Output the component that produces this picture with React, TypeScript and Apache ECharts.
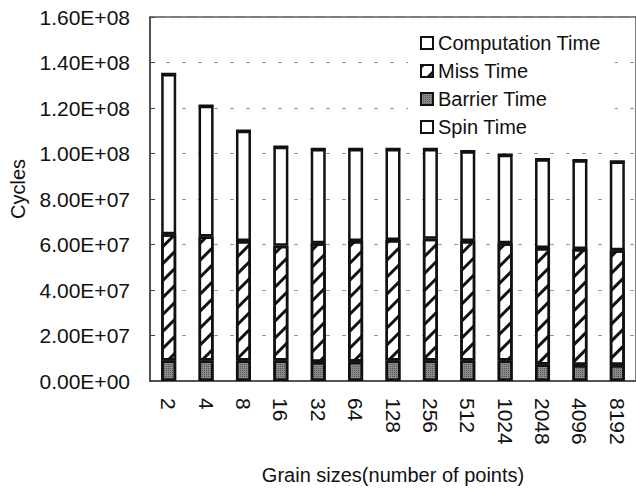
import React, { useEffect, useRef } from "react";
import * as echarts from "echarts";

const categories = ["2", "4", "8", "16", "32", "64", "128", "256", "512", "1024", "2048", "4096", "8192"];
const barrierTime = [9.0e6, 9.0e6, 9.0e6, 9.0e6, 8.3e6, 8.5e6, 9.0e6, 9.0e6, 9.0e6, 9.0e6, 7.2e6, 7.0e6, 7.0e6];
const missTime = [5.55e7, 5.45e7, 5.25e7, 5.05e7, 5.22e7, 5.3e7, 5.3e7, 5.35e7, 5.25e7, 5.15e7, 5.13e7, 5.1e7, 5.05e7];
const computationTime = [7.05e7, 5.75e7, 4.85e7, 4.35e7, 4.15e7, 4.05e7, 4.0e7, 3.95e7, 3.95e7, 3.9e7, 3.9e7, 3.9e7, 3.9e7];
const spinTime = [0, 0, 0, 0, 0, 0, 0, 0, 0, 0, 0, 0, 0];
const yTicks = { min: 0, max: 1.6e8, interval: 2e7 };

const FONT = "'Liberation Sans', Arial, sans-serif";

function fmt(v: number): string {
  if (v === 0) return "0.00E+00";
  const e = Math.floor(Math.log10(v) + 1e-9);
  const m = v / Math.pow(10, e);
  return m.toFixed(2) + "E+" + String(e).padStart(2, "0");
}

export default function App() {
  const ref = useRef<HTMLDivElement>(null);
  useEffect(() => {
    if (!ref.current) return;
    const chart = echarts.init(ref.current, undefined, { renderer: "svg" });
    const border = { borderColor: "#111", borderWidth: 2.5 };
    chart.setOption({
      animation: false,
      backgroundColor: "#fff",
      textStyle: { fontFamily: FONT },
      grid: {
        left: 150,
        right: -1,
        top: 17,
        bottom: 108,
        show: true,
        borderColor: "#555",
        borderWidth: 1.5,
      },
      legend: {
        orient: "vertical",
        left: 408,
        top: 29,
        icon: "rect",
        itemWidth: 12,
        itemHeight: 12,
        itemGap: 8,
        backgroundColor: "#fff",
        padding: [4, 14, 6, 12],
        data: ["Computation Time", "Miss Time", "Barrier Time", "Spin Time"],
        textStyle: { fontSize: 20, color: "#111", fontFamily: FONT },
      },
      xAxis: {
        type: "category",
        data: categories,
        name: "Grain sizes(number of points)",
        nameLocation: "middle",
        nameGap: 84,
        nameTextStyle: { fontSize: 20, color: "#111", fontFamily: FONT },
        axisLine: { lineStyle: { color: "#444", width: 1.5 } },
        axisTick: { inside: true, length: 7, lineStyle: { color: "#888" } },
        axisLabel: { rotate: -90, fontSize: 21, color: "#111", margin: 17, fontFamily: FONT },
      },
      yAxis: {
        type: "value",
        min: yTicks.min,
        max: yTicks.max,
        interval: yTicks.interval,
        name: "Cycles",
        nameLocation: "middle",
        nameGap: 122,
        nameTextStyle: { fontSize: 20, color: "#111", fontFamily: FONT, padding: [0, 0, 0, 20] },
        axisLine: { show: true, lineStyle: { color: "#444", width: 1.5 } },
        axisTick: { show: true, inside: true, length: 5, lineStyle: { color: "#444" } },
        axisLabel: { formatter: (v: number) => fmt(v), fontSize: 21, color: "#111", margin: 20, fontFamily: FONT },
        splitLine: { show: true, lineStyle: { color: "#999", type: [4, 12], width: 1 } },
      },
      series: [
        {
          name: "Barrier Time",
          type: "bar",
          stack: "t",
          barWidth: 15,
          data: barrierTime,
          itemStyle: {
            color: "#8a8a8a",
            ...border,
            decal: {
              symbol: "rect",
              symbolSize: 1,
              dashArrayX: [1, 1],
              dashArrayY: [1, 1],
              color: "#555",
              backgroundColor: "#a8a8a8",
            },
          },
        },
        {
          name: "Miss Time",
          type: "bar",
          stack: "t",
          barWidth: 15,
          data: missTime,
          itemStyle: {
            color: "#fff",
            ...border,
            decal: {
              symbol: "rect",
              symbolSize: 1,
              dashArrayX: [1, 0],
              dashArrayY: [3, 9],
              rotation: -Math.PI / 4,
              color: "#111",
              backgroundColor: "#fff",
            },
          },
        },
        {
          name: "Computation Time",
          type: "bar",
          stack: "t",
          barWidth: 15,
          data: computationTime,
          itemStyle: { color: "#fff", ...border },
        },
        {
          name: "Spin Time",
          type: "bar",
          stack: "t",
          barWidth: 15,
          data: spinTime,
          itemStyle: { color: "#fff", ...border },
        },
      ],
    });
    return () => chart.dispose();
  }, []);
  return <div ref={ref} style={{ position: "fixed", left: 0, top: 0, width: 636, height: 490 }} />;
}
